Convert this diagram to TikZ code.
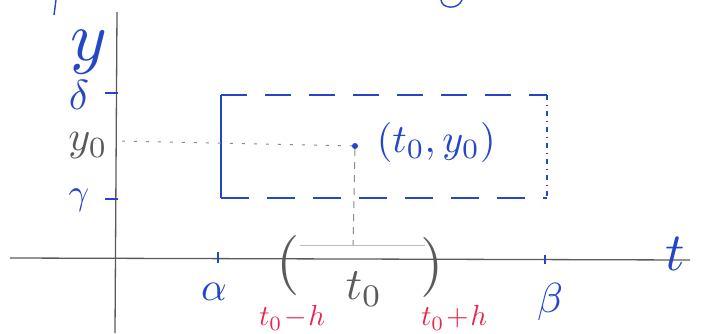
\documentclass[tikz,border=0pt]{standalone}
\definecolor{pen}{HTML}{2446C8}
\definecolor{redpen}{HTML}{E8264E}
\definecolor{pencil}{HTML}{5A5A5A}
\tikzset{
  axis/.style={pencil, line width=1.3pt},
  tickmark/.style={pen, line width=1.8pt},
  box/.style={pen, line width=1.6pt},
  guide/.style={pencil!70, line width=1pt, dash pattern=on 3pt off 9pt},
  bluelbl/.style={pen, inner sep=0pt},
  redlbl/.style={redpen, inner sep=0pt},
  graylbl/.style={pencil, inner sep=0pt},
}
\begin{document}
\begin{tikzpicture}[x=1pt,y=-1pt]
\useasboundingbox (0,0) rectangle (705,333);
% axes
\coordinate (xl) at (10,258);
\coordinate (xr) at (690,260);
\coordinate (yb) at (115,333);
\coordinate (yt) at (117,12);
\draw[axis] (xl) -- (xr);
\draw[axis] (yb) -- (yt);
% cut-off fragments at the top
\coordinate (f1a) at (56,0);
\coordinate (f1b) at (54,15);
\draw[pen, line width=1.4pt] (f1a) -- (f1b);
\coordinate (f2a) at (441,0);
\coordinate (f2b) at (462,0);
\draw[pen, line width=1.4pt] (f2a) .. controls (442,9) and (458,10) .. (f2b);
% y ticks
\coordinate (dt1) at (105,93);  \coordinate (dt2) at (118,93);
\coordinate (gt1) at (105,199); \coordinate (gt2) at (118,199);
\draw[tickmark] (dt1) -- (dt2);
\draw[tickmark] (gt1) -- (gt2);
% t ticks
\coordinate (at1) at (218,252); \coordinate (at2) at (218,263);
\coordinate (bt1) at (545,255); \coordinate (bt2) at (545,264);
\draw[tickmark] (at1) -- (at2);
\draw[tickmark] (bt1) -- (bt2);
% rectangle
\coordinate (A) at (221,95);
\coordinate (B) at (547,95);
\coordinate (C) at (547,198);
\coordinate (D) at (221,198);
\draw[box, dash pattern=on 26pt off 18pt] (A) -- (B);
\draw[box, dash pattern=on 28pt off 18pt] (D) -- (C);
\draw[box] (A) -- (D);
\draw[box, line width=1.2pt, dash pattern=on 5pt off 5pt on 1pt off 5pt] (B) -- (C);
% point
\node[circle, fill=pen, inner sep=0pt, minimum size=6pt] (P) at (355,146) {};
\coordinate (y0l) at (122,141);
\coordinate (Pfoot) at (353,246);
\draw[guide] (y0l) -- (P);
\draw[guide, dash pattern=on 7pt off 6pt] (P.south) -- (Pfoot);
\coordinate (il) at (300,245);
\coordinate (ir) at (425,245);
\draw[pencil!40, line width=0.6pt] (il) -- (ir);
% labels
\node[bluelbl, scale=7] (ylab) at (89,52) {$y$};
\node[bluelbl, scale=4.2] (dlab) at (79,95) {$\delta$};
\node[graylbl, scale=4.2] (y0lab) at (88,146) {$y_0$};
\node[bluelbl, scale=3.6] (glab) at (79,200) {$\gamma$};
\node[bluelbl, scale=4, anchor=west] (plab) at (376,142) {$(t_0, y_0)$};
\node[bluelbl, scale=5.4] (tlab) at (675,254) {$t$};
\node[bluelbl, scale=4] (alab) at (214,292) {$\alpha$};
\node[bluelbl, scale=4.2] (blab) at (550,302) {$\beta$};
\node[graylbl, scale=4.5] (t0lab) at (364,289) {$t_0$};
\node[graylbl, scale=6] (lp) at (288,265) {$($};
\node[graylbl, scale=6] (rp) at (432,267) {$)$};
\node[redlbl, scale=2.9] (tmh) at (292,318) {$t_0\!-\!h$};
\node[redlbl, scale=2.9] (tph) at (454,318) {$t_0\!+\!h$};
\end{tikzpicture}
\end{document}
